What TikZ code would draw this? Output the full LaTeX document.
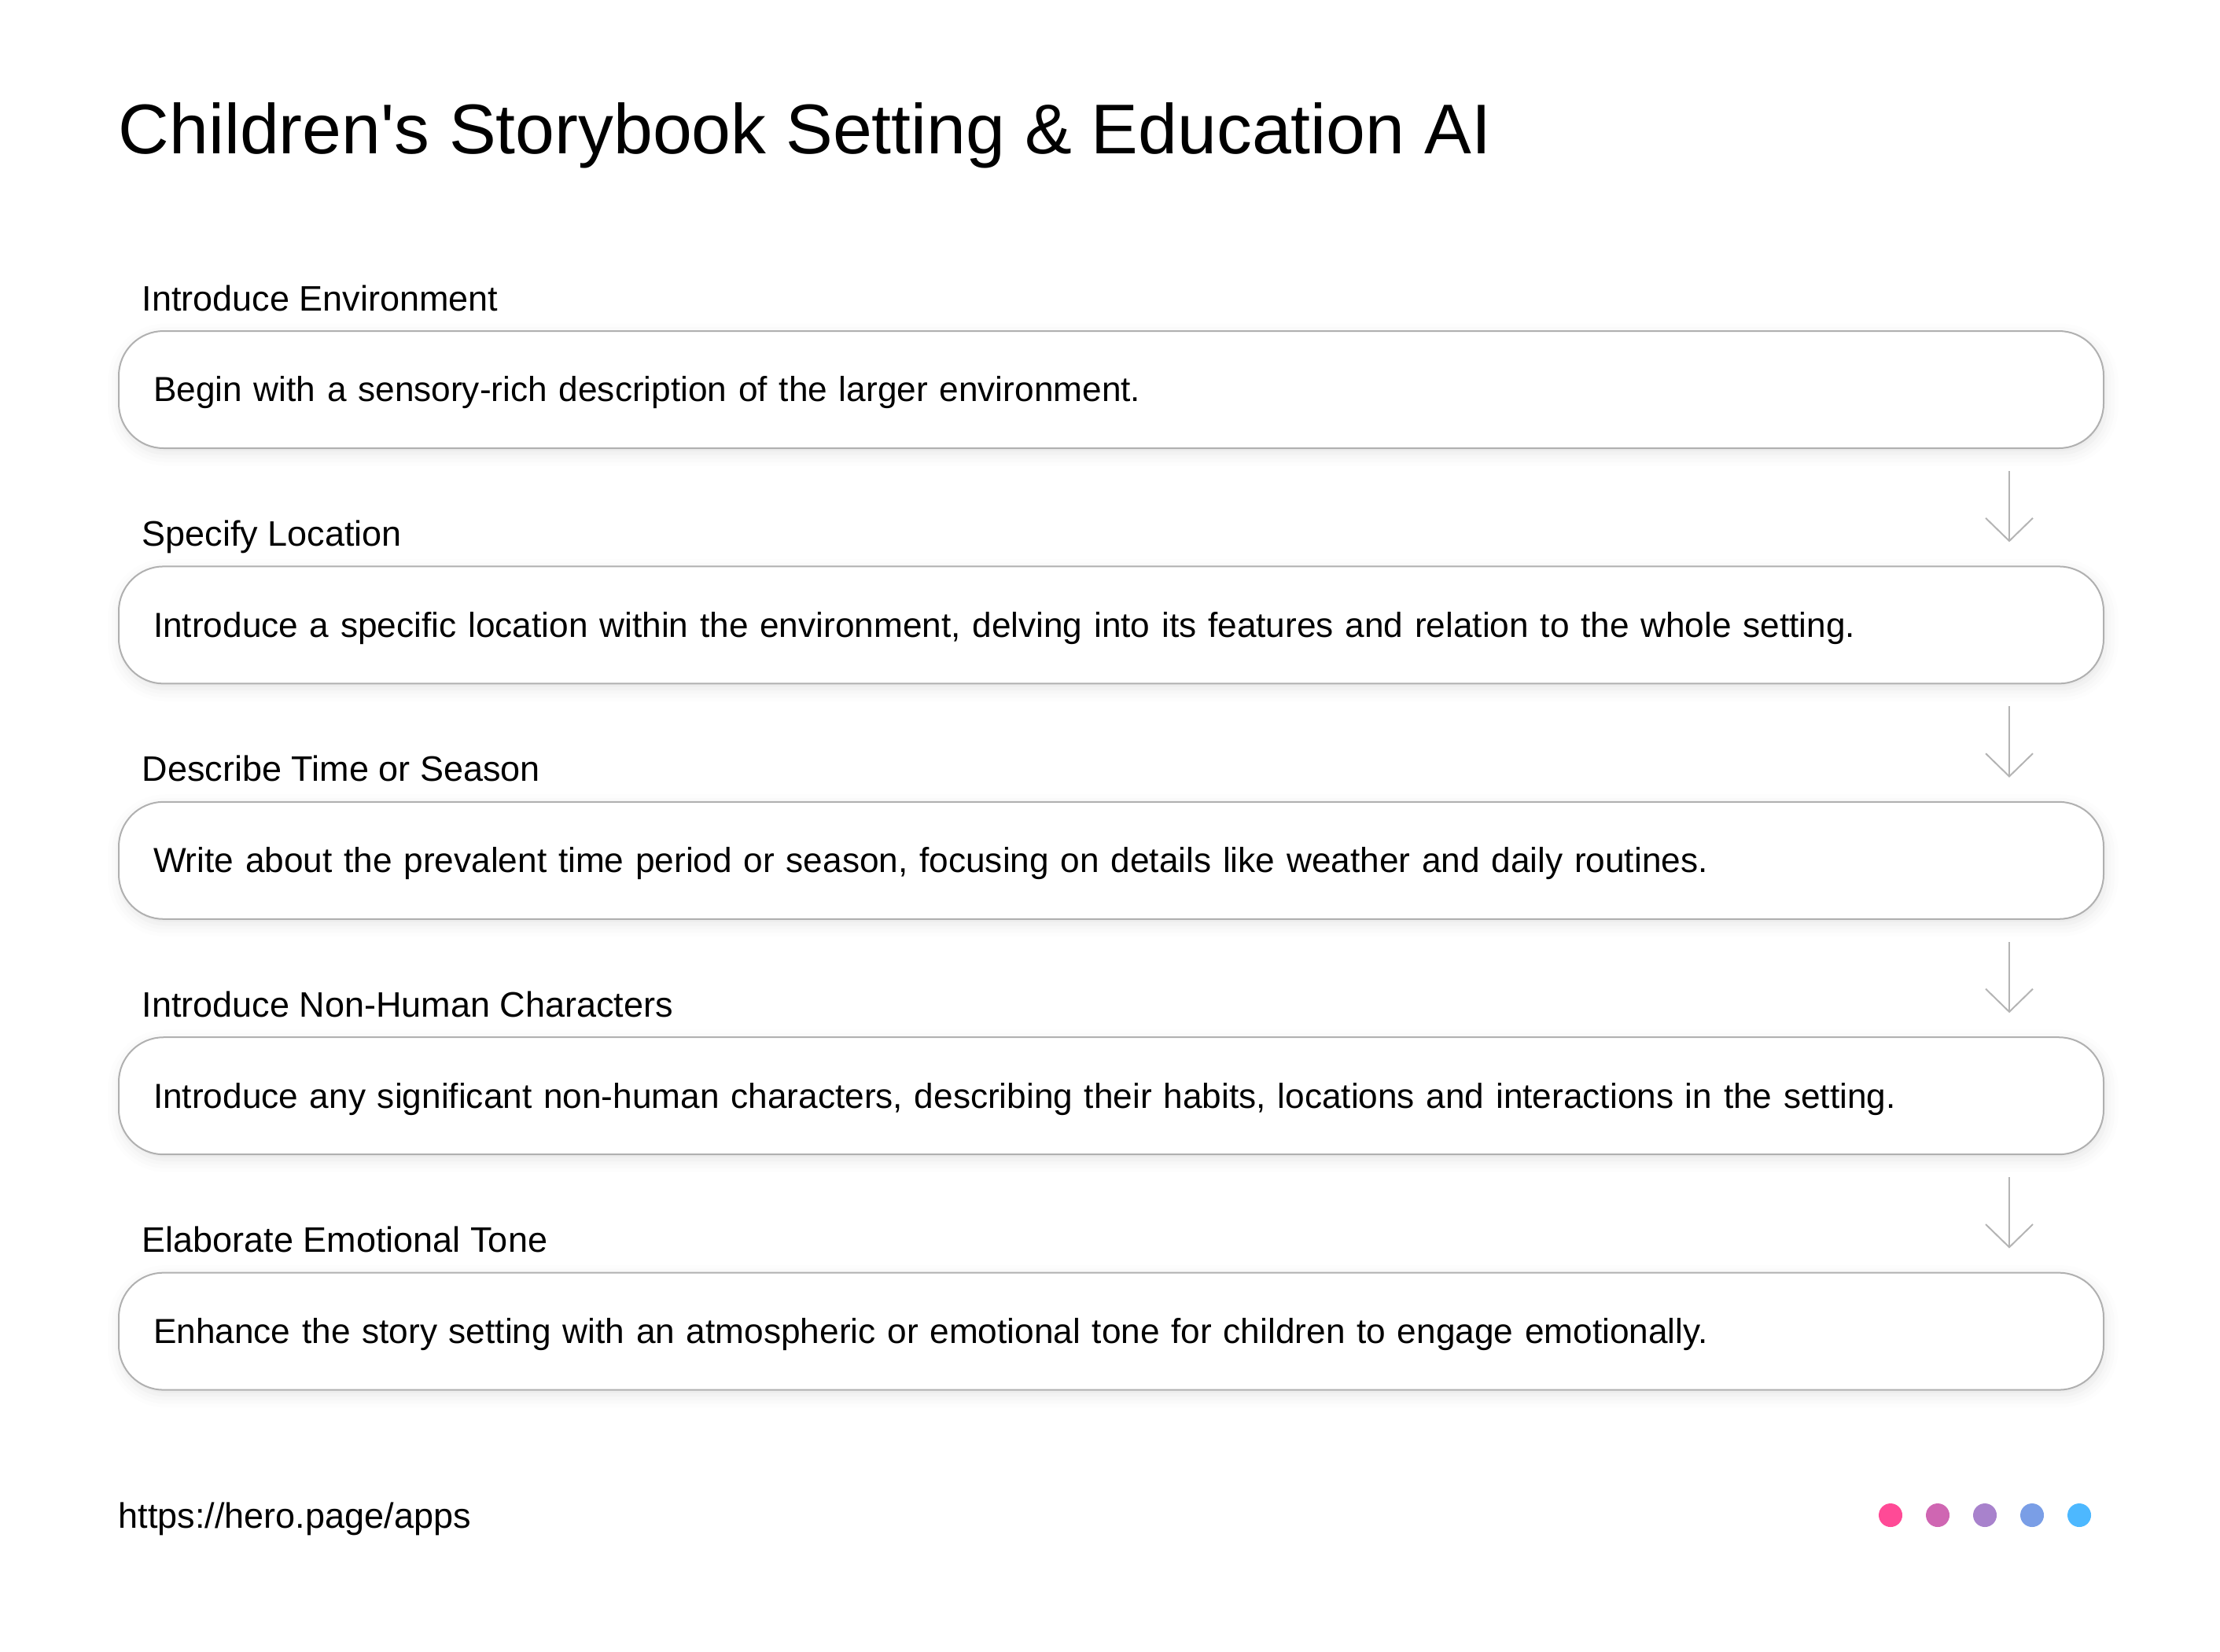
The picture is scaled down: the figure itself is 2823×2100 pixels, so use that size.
\documentclass[tikz,border=0pt]{standalone}
\usepackage{fontspec}
\setmainfont{Liberation Sans}[Ligatures=TeXOff]
\usepackage{tikz}
\usetikzlibrary{positioning,arrows.meta,shadows.blur}
\definecolor{boxline}{HTML}{B0B0B0}
\definecolor{arrowgray}{HTML}{B4B4B4}
\definecolor{dotA}{HTML}{FF4A96}
\definecolor{dotB}{HTML}{CF66B2}
\definecolor{dotC}{HTML}{A882CC}
\definecolor{dotD}{HTML}{7A9EE6}
\definecolor{dotE}{HTML}{4DB8FF}
\tikzset{
	stepbox/.style={draw=boxline, line width=0.5pt, fill=white, rounded corners=14.25pt,
		minimum width=631pt, minimum height=37.25pt, text width=609pt, inner xsep=11pt, inner ysep=0pt,
		text height=10pt, text depth=2.33pt,
		align=left, font=\fontsize{11.05pt}{13.5pt}\selectfont,
		blur shadow={shadow xshift=0.6pt, shadow yshift=-1.6pt, shadow blur radius=4pt, shadow opacity=10}},
	steplabel/.style={anchor=base west, inner sep=0pt, font=\fontsize{11.25pt}{13.5pt}\selectfont},
	steparrow/.style={draw=arrowgray, line width=0.5pt, -{Straight Barb[length=7.3pt, width=15pt]}},
	dot/.style={circle, inner sep=0pt, minimum size=7.5pt}
}
\begin{document}
\begin{tikzpicture}[x=0.25pt, y=-0.25pt] %
		\useasboundingbox (0,0) rectangle (2823,2100) ;
		% Title
		\node[anchor=base west, inner sep=0pt, font=\fontsize{22.4pt}{27pt}\selectfont] (Title) at (150,195) {Children's Storybook Setting \& Education AI} ;
		% Steps
		\node[stepbox, anchor=north west] (Environment) at (150,420) {Begin with a sensory-rich description of the larger environment.} ; %
		\node[stepbox, below=37.1pt of Environment] (Location) {Introduce a specific location within the environment, delving into its features and relation to the whole setting.} ; %
		\node[stepbox, below=37.1pt of Location] (Season) {Write about the prevalent time period or season, focusing on details like weather and daily routines.} ; %
		\node[stepbox, below=37.1pt of Season] (Characters) {Introduce any significant non-human characters, describing their habits, locations and interactions in the setting.} ; %
		\node[stepbox, below=37.1pt of Characters] (Tone) {Enhance the story setting with an atmospheric or emotional tone for children to engage emotionally.} ; %
		% Labels
		\node[steplabel] (EnvironmentLabel) at ([xshift=7.5pt, yshift=6.25pt]Environment.north west) {Introduce Environment} ;
		\node[steplabel] (LocationLabel) at ([xshift=7.5pt, yshift=6.25pt]Location.north west) {Specify Location} ;
		\node[steplabel] (SeasonLabel) at ([xshift=7.5pt, yshift=6.25pt]Season.north west) {Describe Time or Season} ;
		\node[steplabel] (CharactersLabel) at ([xshift=7.5pt, yshift=6.25pt]Characters.north west) {Introduce Non-Human Characters} ;
		\node[steplabel] (ToneLabel) at ([xshift=7.5pt, yshift=6.25pt]Tone.north west) {Elaborate Emotional Tone} ;
		% Arrows
		\draw[steparrow] ([xshift=-30.25pt, yshift=-7pt]Environment.south east) -- ([xshift=-30.25pt, yshift=7.5pt]Location.north east) ;
		\draw[steparrow] ([xshift=-30.25pt, yshift=-7pt]Location.south east) -- ([xshift=-30.25pt, yshift=7.5pt]Season.north east) ;
		\draw[steparrow] ([xshift=-30.25pt, yshift=-7pt]Season.south east) -- ([xshift=-30.25pt, yshift=7.5pt]Characters.north east) ;
		\draw[steparrow] ([xshift=-30.25pt, yshift=-7pt]Characters.south east) -- ([xshift=-30.25pt, yshift=7.5pt]Tone.north east) ;
		% Footer
		\node[anchor=base west, inner sep=0pt, font=\fontsize{11.25pt}{13pt}\selectfont] (Link) at (150,1943) {https://hero.page/apps} ;
		\foreach \c [count=\i from 0] in {dotA,dotB,dotC,dotD,dotE}
			\node[dot, fill=\c] (Dot\i) at (2404+60*\i,1927) {} ;
	\end{tikzpicture}
\end{document}
